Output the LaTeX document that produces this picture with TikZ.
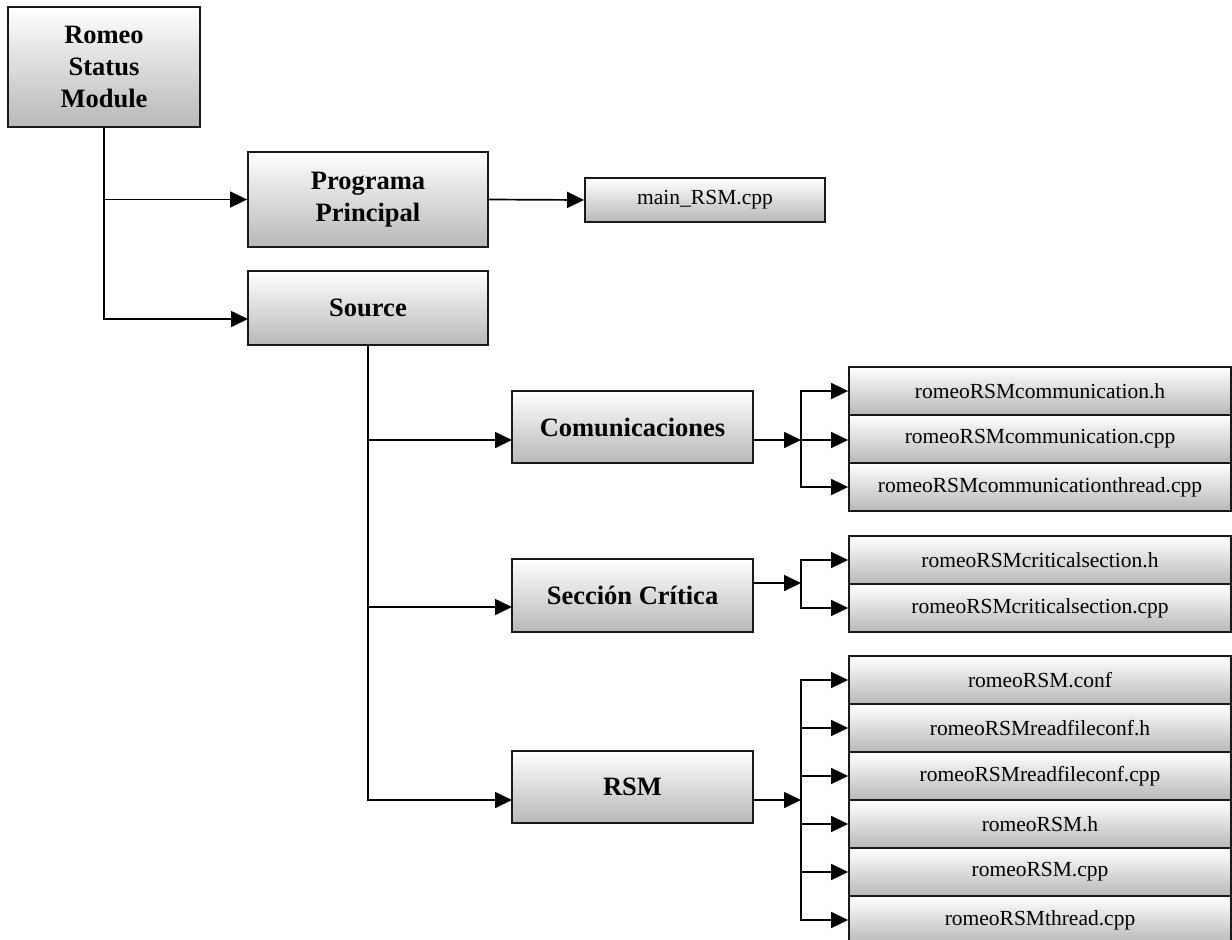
\documentclass[tikz,border=0pt]{standalone}
\usepackage{fontspec}
\setmainfont{Liberation Serif}
\usetikzlibrary{arrows.meta}

\tikzset{
  shadedbox/.style={draw=black!90, line width=1.8pt, rectangle,
    top color=white, bottom color=black!28, inner sep=0pt, align=center},
  hdrbox/.style={shadedbox, minimum width=240, font=\fontsize{26.5}{32}\selectfont\bfseries},
  filebox/.style={shadedbox, minimum width=382, minimum height=48,
    font=\fontsize{21.5}{24}\selectfont},
  conn/.style={line width=1.7pt, -{Triangle[length=17pt,width=16pt]}},
}

\begin{document}
\begin{tikzpicture}[x=1pt,y=-1pt]
\useasboundingbox (0,0) rectangle (1232,940);

% top-level boxes
\node[hdrbox, minimum width=192, minimum height=120] (romeo) at (104,67) {Romeo\\Status\\Module};
\node[hdrbox, minimum height=95] (prog) at (368,199.5) {Programa\\Principal};
\node[shadedbox, minimum width=240, minimum height=44, font=\fontsize{21.5}{24}\selectfont] (mainf) at (705,200) {main\_RSM.cpp};
\node[hdrbox, minimum height=74] (src) at (368,308) {Source};

% source sub-modules
\node[hdrbox, minimum width=241, minimum height=72] (com) at (632.5,427) {Comunicaciones};
\node[hdrbox, minimum width=241, minimum height=73] (sec) at (632.5,595.5) {Sección Crítica};
\node[hdrbox, minimum width=241, minimum height=72] (rsm) at (632.5,787) {RSM};

% files
\node[filebox] (c1) at (1040,391) {romeoRSMcommunication.h};
\node[filebox] (c2) at (1040,439) {romeoRSMcommunication.cpp};
\node[filebox] (c3) at (1040,487) {romeoRSMcommunicationthread.cpp};

\node[filebox] (s1) at (1040,560) {romeoRSMcriticalsection.h};
\node[filebox] (s2) at (1040,608) {romeoRSMcriticalsection.cpp};

\node[filebox] (r1) at (1040,680) {romeoRSM.conf};
\node[filebox] (r2) at (1040,728) {romeoRSMreadfileconf.h};
\node[filebox] (r3) at (1040,776) {romeoRSMreadfileconf.cpp};
\node[filebox] (r4) at (1040,824) {romeoRSM.h};
\node[filebox] (r5) at (1040,872) {romeoRSM.cpp};
\node[filebox] (r6) at (1040,920) {romeoRSMthread.cpp};

% entry and branch points
\coordinate (srcin) at (248,319);
\coordinate (comin) at (512,440);
\coordinate (secin) at (512,607);
\coordinate (rsmin) at (512,800);
\coordinate (comout) at (753,440);
\coordinate (secout) at (753,583);
\coordinate (rsmout) at (753,800);
\coordinate (combr) at (801,440);
\coordinate (secbr) at (801,583);
\coordinate (rsmbr) at (801,800);

% connectors
\draw[conn] (romeo.south) |- (prog.west);
\draw[conn] (romeo.south) |- (srcin);
\draw[conn] (prog.east) -- (mainf.west);

\draw[conn] (src.south) |- (comin);
\draw[conn] (src.south) |- (secin);
\draw[conn] (src.south) |- (rsmin);

\draw[conn] (comout) -- (combr);
\draw[conn] (combr) |- (c1.west);
\draw[conn] (combr) -- (c2.west |- combr);
\draw[conn] (combr) |- (c3.west);

\draw[conn] (secout) -- (secbr);
\draw[conn] (secbr) |- (s1.west);
\draw[conn] (secbr) |- (s2.west);

\draw[conn] (rsmout) -- (rsmbr);
\foreach \f in {r1,r2,r3,r4,r5,r6}
  \draw[conn] (rsmbr) |- (\f.west);
\end{tikzpicture}
\end{document}
